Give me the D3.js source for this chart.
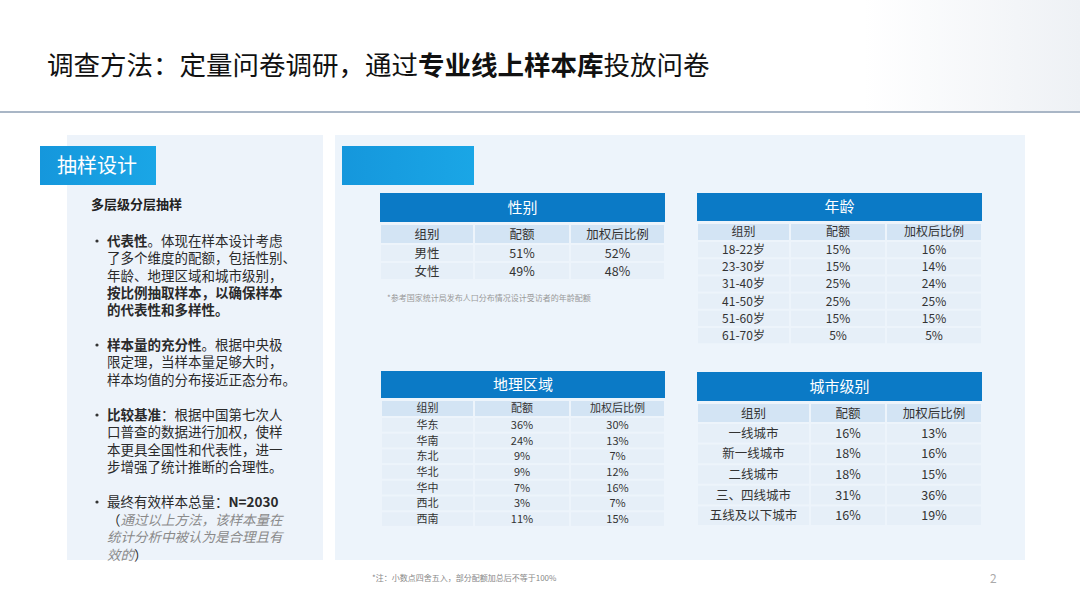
<!DOCTYPE html>
<html><head><meta charset="utf-8">
<script src="https://cdn.jsdelivr.net/npm/d3@7"></script>
<style>body{margin:0;background:#fff}svg{display:block;font-family:"Noto Sans CJK SC","Noto Sans",sans-serif}</style>
</head><body><svg id="c" width="1080" height="608"></svg>
<script>
// table data
var colLabels = ["组别", "配额", "加权后比例"];
var genderGroups = ["男性", "女性"];
var genderQuota = ["51%", "49%"];
var genderWeighted = ["52%", "48%"];
var ageGroups = ["18-22岁", "23-30岁", "31-40岁", "41-50岁", "51-60岁", "61-70岁"];
var ageQuota = ["15%", "15%", "25%", "25%", "15%", "5%"];
var ageWeighted = ["16%", "14%", "24%", "25%", "15%", "5%"];
var geoGroups = ["华东", "华南", "东北", "华北", "华中", "西北", "西南"];
var geoQuota = ["36%", "24%", "9%", "9%", "7%", "3%", "11%"];
var geoWeighted = ["30%", "13%", "7%", "12%", "16%", "7%", "15%"];
var cityGroups = ["一线城市", "新一线城市", "二线城市", "三、四线城市", "五线及以下城市"];
var cityQuota = ["16%", "18%", "18%", "31%", "16%"];
var cityWeighted = ["13%", "16%", "15%", "36%", "19%"];

var svg = d3.select("#c");
var defs = svg.append("defs");
var g1 = defs.append("linearGradient").attr("id", "topfade").attr("x1", 0).attr("x2", 1);
g1.append("stop").attr("offset", "0.8").attr("stop-color", "#fff");
g1.append("stop").attr("offset", "1").attr("stop-color", "#eef1f5");
var g2 = defs.append("linearGradient").attr("id", "tag").attr("x1", 0).attr("x2", 1);
g2.append("stop").attr("offset", "0").attr("stop-color", "#1597dc");
g2.append("stop").attr("offset", "1").attr("stop-color", "#1aa6e6");

svg.append("rect").attr("width", 1080).attr("height", 112).attr("fill", "url(#topfade)");
svg.append("rect").attr("x", 0).attr("y", 111).attr("width", 1080).attr("height", 2).attr("fill", "#a9b6c6");

var title = svg.append("text").attr("x", 47).attr("y", 75).attr("font-size", 26.5).attr("fill", "#111");
title.append("tspan").text("调查方法：定量问卷调研，通过");
title.append("tspan").attr("font-weight", "bold").text("专业线上样本库");
title.append("tspan").text("投放问卷");

// panels
svg.append("rect").attr("x", 67).attr("y", 135).attr("width", 256).attr("height", 425).attr("fill", "#edf3fa");
svg.append("rect").attr("x", 335).attr("y", 135).attr("width", 690).attr("height", 425).attr("fill", "#edf4fb");
svg.append("rect").attr("x", 40).attr("y", 146).attr("width", 116).attr("height", 39).attr("fill", "url(#tag)");
svg.append("text").attr("x", 57).attr("y", 173).attr("font-size", 20).attr("fill", "#fff").text("抽样设计");
svg.append("rect").attr("x", 342).attr("y", 146).attr("width", 132).attr("height", 39).attr("fill", "url(#tag)");

// left text
svg.append("text").attr("x", 91).attr("y", 209).attr("font-size", 13).attr("font-weight", "bold").attr("fill", "#222").text("多层级分层抽样");
var lines = [
  {y: 246, b: true, parts: [["代表性", 1], ["。体现在样本设计考虑", 0]]},
  {y: 263, parts: [["了多个维度的配额，包括性别、", 0]]},
  {y: 281, parts: [["年龄、地理区域和城市级别，", 0]]},
  {y: 298, parts: [["按比例抽取样本，以确保样本", 1]]},
  {y: 315, parts: [["的代表性和多样性。", 1]]},
  {y: 350, b: true, parts: [["样本量的充分性", 1], ["。根据中央极", 0]]},
  {y: 367, parts: [["限定理，当样本量足够大时，", 0]]},
  {y: 385, parts: [["样本均值的分布接近正态分布。", 0]]},
  {y: 420, b: true, parts: [["比较基准", 1], ["：根据中国第七次人", 0]]},
  {y: 437, parts: [["口普查的数据进行加权，使样", 0]]},
  {y: 455, parts: [["本更具全国性和代表性，进一", 0]]},
  {y: 472, parts: [["步增强了统计推断的合理性。", 0]]},
  {y: 507, b: true, parts: [["最终有效样本总量：", 0], ["N=2030", 1]]},
  {y: 525, parts: [["（", 0], ["通过以上方法，该样本量在", 2]]},
  {y: 542, parts: [["统计分析中被认为是合理且有", 2]]},
  {y: 560, parts: [["效的", 2], ["）", 0]]}
];
lines.forEach(function(l) {
  if (l.b) svg.append("circle").attr("cx", 97).attr("cy", l.y - 5).attr("r", 1.6).attr("fill", "#333");
  var t = svg.append("text").attr("x", 107).attr("y", l.y).attr("font-size", 13.5).attr("fill", "#2a2a2a");
  l.parts.forEach(function(p) {
    var s = t.append("tspan").text(p[0]);
    if (p[1] == 1) s.attr("font-weight", "bold");
    if (p[1] == 2) s.attr("font-style", "italic").attr("fill", "#8a8a8a");
  });
});

function table(cfg) {
  var g = svg.append("g");
  var fs = cfg.fs || 12.5;
  var x = d3.scaleOrdinal().domain([0, 1, 2]).range(cfg.cols);
  var widths = [cfg.cols[1] - cfg.cols[0], cfg.cols[2] - cfg.cols[1], cfg.right - cfg.cols[2]];
  var cx = function(i) { return x(i) + widths[i] / 2; };
  g.append("rect").attr("x", cfg.cols[0]).attr("y", cfg.top).attr("width", cfg.right - cfg.cols[0])
    .attr("height", cfg.headH).attr("fill", "#0b7ac6");
  g.append("text").attr("x", (cfg.cols[0] + cfg.right) / 2).attr("y", cfg.top + cfg.headH / 2 + 5)
    .attr("text-anchor", "middle").attr("font-size", 15).attr("fill", "#fff").text(cfg.title);
  var rows = [colLabels].concat(cfg.groups.map(function(d, i) { return [d, cfg.quota[i], cfg.weighted[i]]; }));
  var y0 = cfg.top + cfg.headH + 2;
  var y = function(r) { return r == 0 ? y0 : y0 + cfg.colH + (r - 1) * cfg.rowH; };
  rows.forEach(function(row, r) {
    var h = r == 0 ? cfg.colH : cfg.rowH;
    row.forEach(function(v, i) {
      g.append("rect").attr("x", x(i) + 1).attr("y", y(r) + 1).attr("width", widths[i] - 2).attr("height", h - 2)
        .attr("fill", r == 0 ? "#d3e4f4" : "#e6eff8");
      g.append("text").attr("x", cx(i)).attr("y", y(r) + h / 2 + fs * 0.36)
        .attr("text-anchor", "middle")
        .attr("font-size", fs).attr("fill", "#333").text(v);
    });
  });
}

table({title: "性别", cols: [380, 474, 570], right: 665, top: 193, headH: 29, colH: 20, rowH: 18,
  groups: genderGroups, quota: genderQuota, weighted: genderWeighted});
table({title: "年龄", cols: [697, 790, 886], right: 982, top: 193, headH: 28, colH: 18, rowH: 17.2, fs: 12,
  groups: ageGroups, quota: ageQuota, weighted: ageWeighted});
table({title: "地理区域", cols: [381, 474, 570], right: 665, top: 371, headH: 27, colH: 17, rowH: 15.7, fs: 11,
  groups: geoGroups, quota: geoQuota, weighted: geoWeighted});
table({title: "城市级别", cols: [697, 810, 886], right: 982, top: 372, headH: 29, colH: 20, rowH: 20.6,
  groups: cityGroups, quota: cityQuota, weighted: cityWeighted});

svg.append("text").attr("x", 387).attr("y", 301).attr("font-size", 8).attr("fill", "#999").text("*参考国家统计局发布人口分布情况设计受访者的年龄配额");
svg.append("text").attr("x", 372).attr("y", 581).attr("font-size", 8).attr("fill", "#888").text("*注：小数点四舍五入，部分配额加总后不等于100%");
svg.append("text").attr("x", 990).attr("y", 583).attr("font-size", 12).attr("fill", "#aaa").text("2");
</script></body></html>
